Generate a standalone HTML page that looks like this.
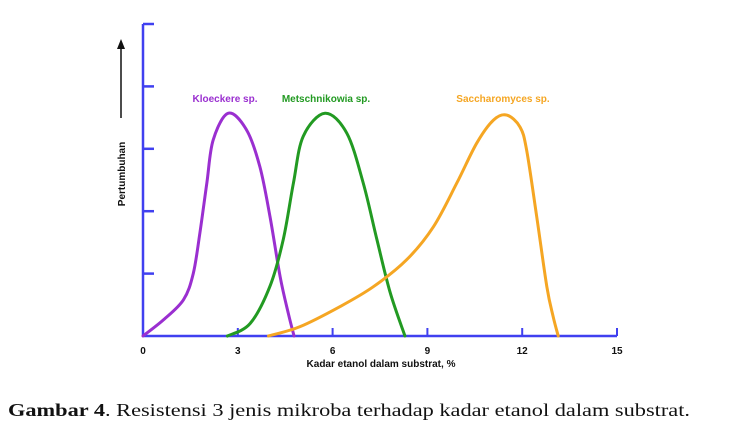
<!DOCTYPE html>
<html><head><meta charset="utf-8"><style>
html,body{margin:0;padding:0;background:#fff;}
svg{display:block;}
</style></head><body>
<svg width="743" height="428" viewBox="0 0 743 428">
<g id="axes"></g>
<g id="curves"></g>
<g id="labels"></g>
<text x="8" y="416" font-family="'Liberation Serif',serif" font-size="18" fill="#111" textLength="682" lengthAdjust="spacingAndGlyphs"><tspan font-weight="bold">Gambar 4</tspan>. Resistensi 3 jenis mikroba terhadap kadar etanol dalam substrat.</text>
</svg>
<script>
const xTicks = [0, 3, 6, 9, 12, 15];
const yTicks = [0, 1, 2, 3, 4, 5];
const seriesNames = ["Kloeckere sp.", "Metschnikowia sp.", "Saccharomyces sp."];
const kloeckereX = [0, 0.65, 1.28, 1.59, 1.80, 2.02, 2.22, 2.70, 3.28, 3.70, 4.02, 4.34, 4.60, 4.78];
const kloeckereY = [0, 0.26, 0.58, 1.0, 1.65, 2.45, 3.14, 3.57, 3.30, 2.71, 1.91, 0.95, 0.36, 0];
const metschX = [2.67, 3.39, 4.02, 4.44, 4.76, 5.07, 5.76, 6.45, 6.97, 7.40, 7.82, 8.29];
const metschY = [0, 0.2, 0.8, 1.55, 2.45, 3.2, 3.57, 3.25, 2.45, 1.55, 0.7, 0];
const saccX = [3.97, 4.97, 6.23, 7.29, 8.34, 9.19, 9.93, 10.56, 11.09, 11.51, 11.93, 12.14, 12.46, 12.78, 12.98, 13.14];
const saccY = [0, 0.15, 0.47, 0.79, 1.22, 1.75, 2.45, 3.09, 3.46, 3.54, 3.35, 2.98, 1.91, 0.79, 0.31, 0];

const NS = "http://www.w3.org/2000/svg";
const X0 = 143, X1 = 617, Y0 = 336, Y1 = 24;
function sx(v){ return X0 + v * (X1 - X0) / 15; }
function sy(v){ return Y0 - v * (Y0 - Y1) / 5; }
function mk(tag, attrs, parent){ const e = document.createElementNS(NS, tag); for (const k in attrs) e.setAttribute(k, attrs[k]); parent.appendChild(e); return e; }

const axes = document.getElementById('axes');
const blue = "#4040f0";
const ya = mk('line', {x1: sx(0), y1: sy(5), x2: sx(0), y2: sy(0), stroke: blue, 'stroke-width': 2.5}, axes);


const xa = mk('line', {x1: sx(0), y1: sy(0), x2: sx(15), y2: sy(0), stroke: blue, 'stroke-width': 2.5}, axes);


yTicks.forEach(t => {
  if (t === 0) return;
  const l = mk('line', {x1: sx(0), y1: sy(t), x2: sx(0) + 11, y2: sy(t), stroke: blue, 'stroke-width': 2.5}, axes);
  
  
});
xTicks.forEach(t => {
  if (t > 0) {
    const l = mk('line', {x1: sx(t), y1: sy(0), x2: sx(t), y2: sy(0) - 8, stroke: blue, 'stroke-width': 2}, axes);
    
    
  }
  const tx = mk('text', {x: sx(t), y: 354, 'text-anchor': 'middle', 'font-family': "'Liberation Sans',sans-serif", 'font-size': 10, 'font-weight': 'bold', fill: '#111'}, axes);
  tx.textContent = t;
  
  
});
const xt = mk('text', {x: 381, y: 367, 'text-anchor': 'middle', 'font-family': "'Liberation Sans',sans-serif", 'font-size': 10, 'font-weight': 'bold', fill: '#111'}, axes);
xt.textContent = "Kadar etanol dalam substrat, %";


const yt = mk('text', {x: 0, y: 0, transform: 'translate(125,174) rotate(-90)', 'text-anchor': 'middle', 'font-family': "'Liberation Sans',sans-serif", 'font-size': 10, 'font-weight': 'bold', fill: '#111'}, axes);
yt.textContent = "Pertumbuhan";


const ar = mk('line', {x1: 121, y1: 118, x2: 121, y2: 48, stroke: '#111', 'stroke-width': 1.5}, axes);


const ah = mk('polygon', {points: '121,39 117,49 125,49', fill: '#111'}, axes);



function pathFor(xs, ys){
  const p = xs.map((x, i) => [sx(x), sy(ys[i])]);
  let d = `M${p[0][0]},${p[0][1]}`;
  for (let i = 0; i < p.length - 1; i++) {
    const p0 = p[Math.max(0, i - 1)], p1 = p[i], p2 = p[i + 1], p3 = p[Math.min(p.length - 1, i + 2)];
    const c1 = [p1[0] + (p2[0] - p0[0]) / 6, p1[1] + (p2[1] - p0[1]) / 6];
    const c2 = [p2[0] - (p3[0] - p1[0]) / 6, p2[1] - (p3[1] - p1[1]) / 6];
    d += ` C${c1[0]},${c1[1]} ${c2[0]},${c2[1]} ${p2[0]},${p2[1]}`;
  }
  return d;
}
const curves = document.getElementById('curves');
const cfg = [
  [kloeckereX, kloeckereY, '#9a2fd0', 'kloeckere-curve'],
  [metschX, metschY, '#229a22', 'metschnikowia-curve'],
  [saccX, saccY, '#f5a623', 'saccharomyces-curve']
];
cfg.forEach(c => {
  const p = mk('path', {d: pathFor(c[0], c[1]), fill: 'none', stroke: c[2], 'stroke-width': 3, 'stroke-linecap': 'round', 'stroke-linejoin': 'round'}, curves);
  
  
});
const labels = document.getElementById('labels');
const lab = [[seriesNames[0], 225, '#9a2fd0', 'kloeckere-label'], [seriesNames[1], 326, '#229a22', 'metschnikowia-label'], [seriesNames[2], 503, '#f5a623', 'saccharomyces-label']];
lab.forEach(l => {
  const t = mk('text', {x: l[1], y: 102, 'text-anchor': 'middle', 'font-family': "'Liberation Sans',sans-serif", 'font-size': 10, 'font-weight': 'bold', fill: l[2]}, labels);
  t.textContent = l[0];
  
  
});
</script>
</body></html>
